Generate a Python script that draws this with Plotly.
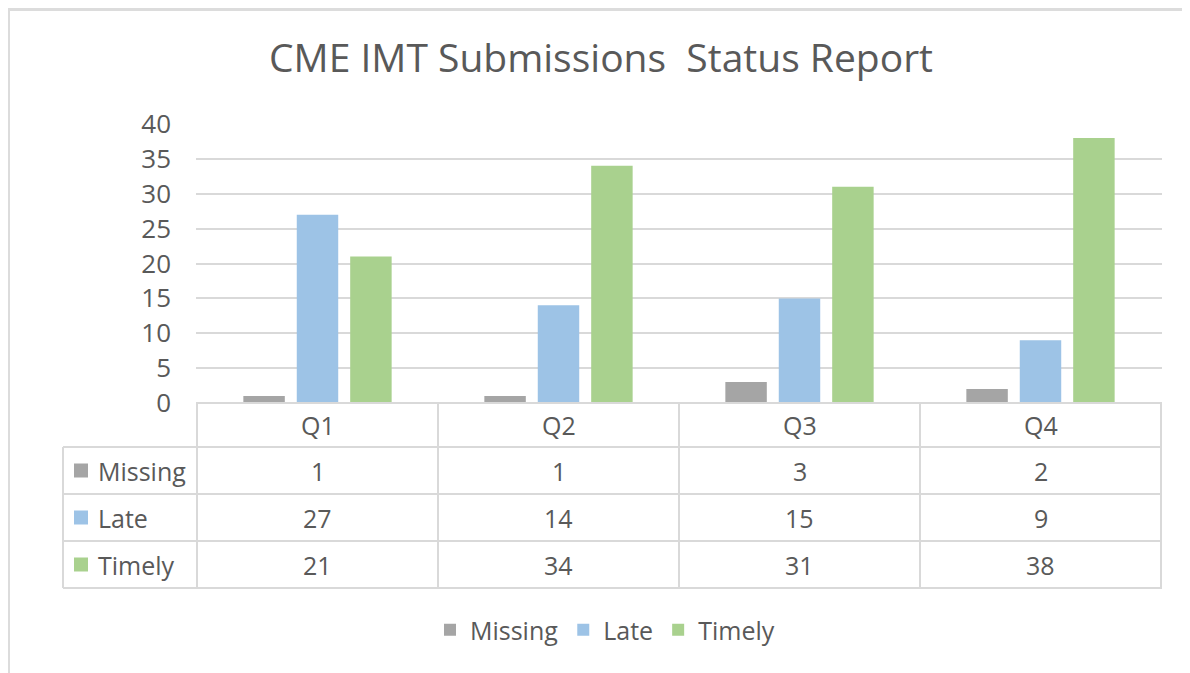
import plotly.graph_objects as go

# ---- data ----
categories = ["Q1", "Q2", "Q3", "Q4"]
series_names = ["Missing", "Late", "Timely"]
missing = [1, 1, 3, 2]
late = [27, 14, 15, 9]
timely = [21, 34, 31, 38]
y_ticks = [0, 5, 10, 15, 20, 25, 30, 35, 40]
title_text = "CME IMT Submissions  Status Report"

# ---- style ----
OFF = 8  # default page body margin
W, H = 1190 - OFF, 673 - OFF
FONT = "Open Sans"
TXT = "#595959"
GRID = "#d9d9d9"
colors = {"Missing": "#a5a5a5", "Late": "#9dc3e6", "Timely": "#a9d18e"}
values = {"Missing": missing, "Late": late, "Timely": timely}


def px(x):
    return (x - OFF) / W


def py(y):
    return 1 - (y - OFF) / H


plot_left, plot_right = 196, 1162
plot_top, plot_bottom = 124, 403
row_edges = [403, 447, 494, 541, 588]
label_left = 63

fig = go.Figure()
for name in series_names:
    fig.add_trace(go.Bar(
        x=categories, y=values[name], name=name,
        marker=dict(color=colors[name], line=dict(width=0)),
    ))

shapes = []
annotations = []

# outer chart border
shapes.append(dict(type="rect", xref="paper", yref="paper",
                   x0=px(8.5), x1=px(1230), y0=py(720), y1=py(9.5),
                   line=dict(color="#dcdcdc", width=3)))

# table horizontal lines
shapes.append(dict(type="line", xref="paper", yref="paper",
                   x0=px(plot_left), x1=px(plot_right),
                   y0=py(row_edges[0]), y1=py(row_edges[0]),
                   line=dict(color=GRID, width=2)))
for ry in row_edges[1:]:
    shapes.append(dict(type="line", xref="paper", yref="paper",
                       x0=px(label_left), x1=px(plot_right),
                       y0=py(ry), y1=py(ry),
                       line=dict(color=GRID, width=2)))
# table vertical lines
for i in range(len(categories) + 1):
    shapes.append(dict(type="line", xref="x", yref="paper",
                       x0=i - 0.5, x1=i - 0.5,
                       y0=py(row_edges[0]), y1=py(row_edges[-1]),
                       line=dict(color=GRID, width=2)))
shapes.append(dict(type="line", xref="paper", yref="paper",
                   x0=px(label_left), x1=px(label_left),
                   y0=py(row_edges[1]), y1=py(row_edges[-1]),
                   line=dict(color=GRID, width=2)))

# header row
hy = (row_edges[0] + row_edges[1]) / 2
for c in categories:
    annotations.append(dict(x=c, y=py(hy), xref="x", yref="paper",
                            text=c, showarrow=False,
                            font=dict(family=FONT, size=25, color=TXT),
                            xanchor="center", yanchor="middle"))
# data rows
for r, name in enumerate(series_names):
    cy = (row_edges[r + 1] + row_edges[r + 2]) / 2
    shapes.append(dict(type="rect", xref="paper", yref="paper",
                       x0=px(74), x1=px(88), y0=py(cy + 7), y1=py(cy - 7),
                       fillcolor=colors[name], line=dict(width=0)))
    annotations.append(dict(x=px(96), y=py(cy), xref="paper", yref="paper",
                            text=name, showarrow=False,
                            font=dict(family=FONT, size=25, color=TXT),
                            xanchor="left", yanchor="middle"))
    for c, v in zip(categories, values[name]):
        annotations.append(dict(x=c, y=py(cy), xref="x", yref="paper",
                                text=str(v), showarrow=False,
                                font=dict(family=FONT, size=25, color=TXT),
                                xanchor="center", yanchor="middle"))

fig.update_layout(
    width=W, height=H, autosize=False,
    margin=dict(l=0, r=0, t=0, b=0, pad=0, autoexpand=False),
    paper_bgcolor="white", plot_bgcolor="white",
    title=dict(text=title_text, x=px(601), xanchor="center",
               y=py(58), yanchor="middle",
               font=dict(family=FONT, size=39, color=TXT)),
    barmode="group", bargap=0.335, bargroupgap=0.224,
    xaxis=dict(domain=[px(plot_left), px(plot_right)],
               showticklabels=False, showgrid=False, zeroline=False,
               showline=False, ticks=""),
    yaxis=dict(domain=[py(plot_bottom), py(plot_top)], range=[0, 40],
               tickvals=y_ticks, showgrid=True, gridcolor=GRID, gridwidth=2,
               zeroline=False, showline=False, ticks="",
               ticklabelstandoff=24,
               tickfont=dict(family=FONT, size=26, color=TXT)),
    legend=dict(orientation="h", x=px(605), xanchor="center",
                y=py(630), yanchor="middle",
                font=dict(family=FONT, size=25, color=TXT),
                bgcolor="rgba(0,0,0,0)"),
    shapes=shapes,
    annotations=annotations,
    showlegend=True,
)

fig.write_html("out.html")
